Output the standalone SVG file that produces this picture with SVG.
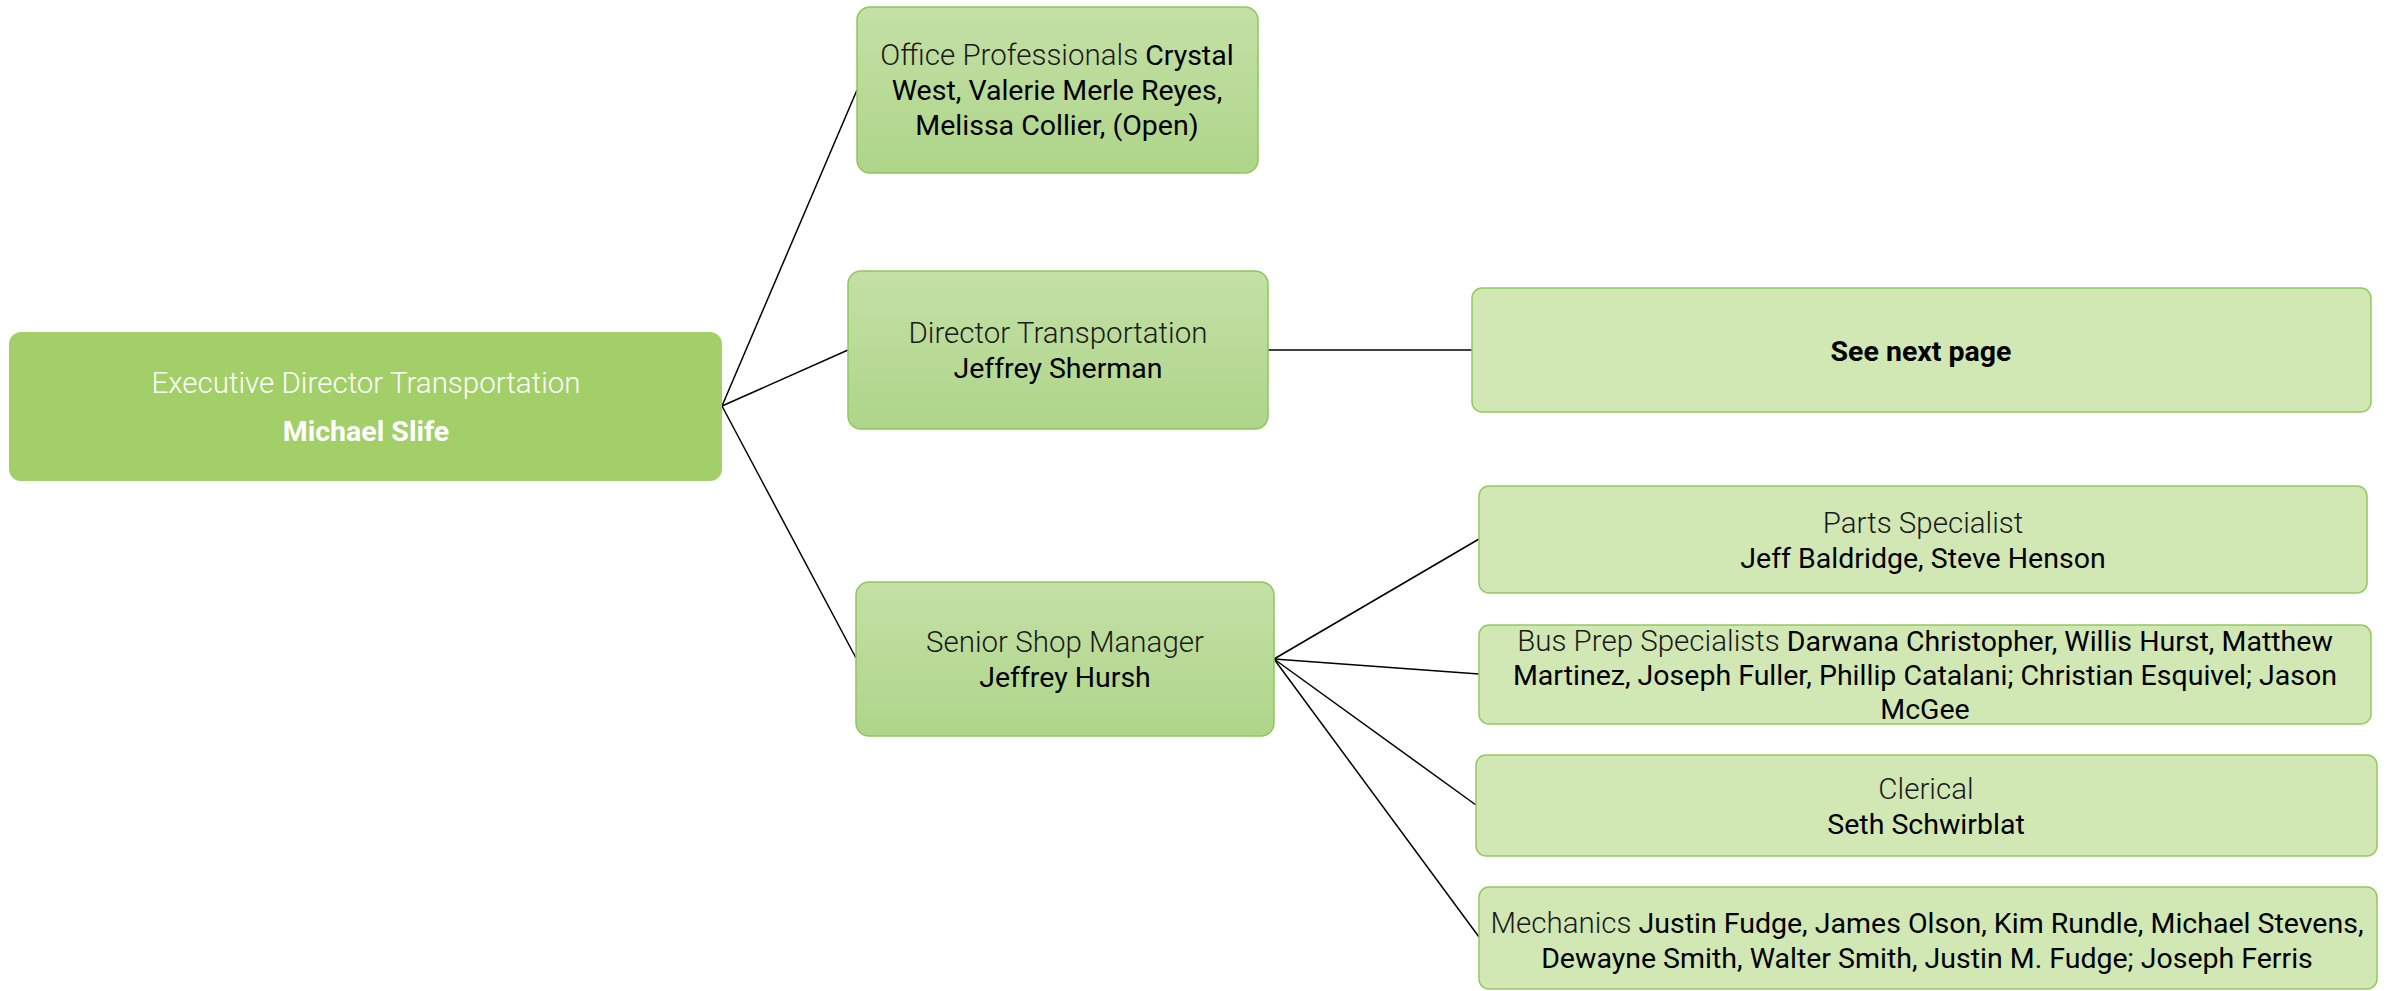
<svg xmlns="http://www.w3.org/2000/svg" width="2394" height="991" viewBox="0 0 2394 991">
<defs>
<linearGradient id="g" x1="0" y1="0" x2="0" y2="1">
<stop offset="0" stop-color="#c4e0a6"/>
<stop offset="1" stop-color="#aed589"/>
</linearGradient>
</defs>
<style>
text{font-family:Roboto,"Liberation Sans",sans-serif;font-size:28.5px;text-anchor:middle;fill:#000}
.t{font-weight:300;fill:#1a1a1a;font-size:29.5px}
.b{font-weight:700}
.w{fill:#fff}
.mid{fill:url(#g);stroke:#8fc75a;stroke-width:1.5}
.leaf{fill:#d1e7b4;stroke:#93c95e;stroke-width:1.5}
.root{fill:#a3cf69}
.c line{stroke:#000;stroke-width:1.5}
</style>
<rect width="2394" height="991" fill="#fff"/>
<g class="c" id="connectors">
<line x1="722" y1="406" x2="857" y2="90"/>
<line x1="722" y1="406" x2="848" y2="350"/>
<line x1="722" y1="406" x2="856" y2="658"/>
<line x1="1268" y1="350" x2="1472" y2="350"/>
<line x1="1274" y1="659" x2="1479" y2="539"/>
<line x1="1274" y1="659" x2="1479" y2="674"/>
<line x1="1274" y1="659" x2="1476" y2="805"/>
<line x1="1274" y1="659" x2="1479" y2="937"/>
</g>
<g id="root">
<rect class="root" x="9" y="332" width="713" height="149" rx="12"/>
<text class="t w" x="366" y="393">Executive Director Transportation</text>
<text class="b w" x="366" y="441">Michael Slife</text>
</g>
<g id="office">
<rect class="mid" x="857" y="7" width="401" height="166" rx="13"/>
<text x="1057" y="65"><tspan class="t">Office Professionals</tspan> Crystal</text>
<text x="1057" y="100">West, Valerie Merle Reyes,</text>
<text x="1057" y="135">Melissa Collier, (Open)</text>
</g>
<g id="director">
<rect class="mid" x="848" y="271" width="420" height="158" rx="13"/>
<text class="t" x="1058" y="343">Director Transportation</text>
<text x="1058" y="378">Jeffrey Sherman</text>
</g>
<g id="nextpage">
<rect class="leaf" x="1472" y="288" width="899" height="124" rx="10"/>
<text class="b" x="1921" y="361">See next page</text>
</g>
<g id="senior">
<rect class="mid" x="856" y="582" width="418" height="154" rx="13"/>
<text class="t" x="1065" y="652">Senior Shop Manager</text>
<text x="1065" y="687">Jeffrey Hursh</text>
</g>
<g id="parts">
<rect class="leaf" x="1479" y="486" width="888" height="107" rx="10"/>
<text class="t" x="1923" y="533">Parts Specialist</text>
<text x="1923" y="568">Jeff Baldridge, Steve Henson</text>
</g>
<g id="busprep">
<rect class="leaf" x="1479" y="625" width="892" height="99" rx="10"/>
<text x="1925" y="651"><tspan class="t">Bus Prep Specialists</tspan> Darwana Christopher, Willis Hurst, Matthew</text>
<text x="1925" y="685">Martinez, Joseph Fuller, Phillip Catalani; Christian Esquivel; Jason</text>
<text x="1925" y="719">McGee</text>
</g>
<g id="clerical">
<rect class="leaf" x="1476" y="755" width="901" height="101" rx="10"/>
<text class="t" x="1926" y="799">Clerical</text>
<text x="1926" y="834">Seth Schwirblat</text>
</g>
<g id="mechanics">
<rect class="leaf" x="1479" y="887" width="898" height="102" rx="10"/>
<text x="1927" y="933"><tspan class="t">Mechanics</tspan> Justin Fudge, James Olson, Kim Rundle, Michael Stevens,</text>
<text x="1927" y="968">Dewayne Smith, Walter Smith, Justin M. Fudge; Joseph Ferris</text>
</g>
</svg>
